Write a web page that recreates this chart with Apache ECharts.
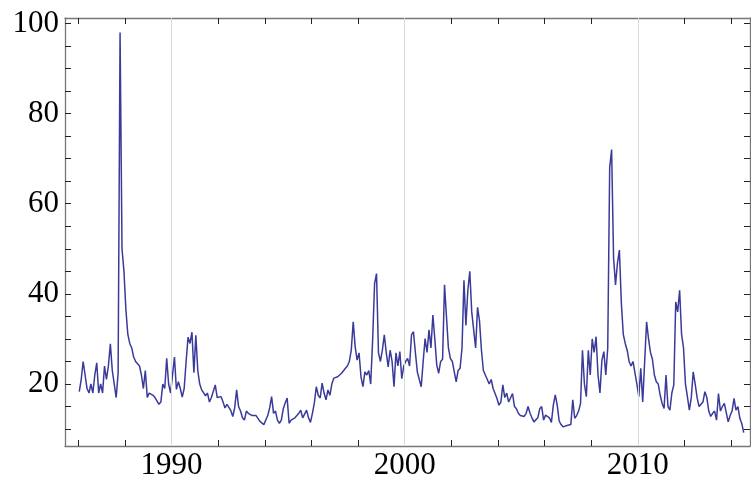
<!DOCTYPE html>
<html>
<head>
<meta charset="utf-8">
<title>Volatility index, 1986-2014</title>
<script src="https://cdn.jsdelivr.net/npm/echarts@6/dist/echarts.min.js"></script>
<style>
    html, body { margin: 0; padding: 0; background: #fff; }
    #chart { width: 751px; height: 483px; }
</style>
</head>
<body>
<div id="chart"></div>
<script>
// Monthly readings of the index, one array per year (Jan..Dec)
var v1986 = [18.3, 21, 25, 22, 19, 18, 20, 18, 22, 24.7, 18, 20];
var v1987 = [18, 24, 21, 24, 28.9, 23, 20, 17, 22.4, 98, 50, 45];
var v1988 = [36.5, 31, 29, 28, 26, 25, 24.5, 24, 22, 19, 23, 17];
var v1989 = [18, 18, 17.5, 17, 17, 15.5, 16, 20, 19, 25.7, 20, 18];
var v1990 = [22, 26, 18.8, 20.5, 19, 17.1, 19, 25, 30.4, 29, 31.5, 22.5];
var v1991 = [30.8, 23, 20, 18.7, 19, 17.4, 18, 16, 17, 17, 19.8, 17];
var v1992 = [17, 17.2, 16, 14.7, 15.5, 14.8, 14.1, 12.8, 14.7, 18.7, 15, 14];
var v1993 = [12.5, 12, 14, 13.5, 13.5, 13, 12.9, 13, 13.1, 11.7, 12, 11];
var v1994 = [11.3, 13, 14.7, 17.2, 13.5, 14, 12, 11.3, 12, 14.5, 15.8, 16.9];
var v1995 = [11.3, 12, 12, 12.5, 13, 13.5, 14.2, 12.5, 12.2, 14.2, 12.5, 11.5];
var v1996 = [13.5, 15.8, 19.4, 17.5, 16.9, 20.2, 18, 16.5, 18.7, 17.5, 20, 21.3];
var v1997 = [21, 21.6, 22, 22.4, 22, 23.5, 24, 25, 27.5, 33.8, 28.3, 25.3];
var v1998 = [26.9, 21.6, 19.4, 22.7, 22, 23, 20, 29.8, 42.3, 44.5, 26.9, 25];
var v1999 = [27.5, 30.9, 27, 23.8, 27.5, 25, 19.4, 26.9, 24, 27.2, 21.2, 24];
var v2000 = [25, 25.7, 24, 30.9, 31.6, 27, 22.7, 21, 19.4, 25, 30.1, 27];
var v2001 = [32, 28, 35.3, 30, 24.2, 22.4, 25, 25.5, 42, 34.9, 28, 25.7];
var v2002 = [25, 25.3, 20.5, 23, 23.5, 28, 43, 33, 40.8, 45, 36, 32];
var v2003 = [28, 37, 34, 27.5, 23, 22, 21.6, 20, 21, 19, 18.7, 16.8];
var v2004 = [15.3, 16, 19.8, 17, 18, 16, 16, 17.9, 15, 14.5, 13.5, 13];
var v2005 = [13, 12.8, 13.5, 15, 13.5, 12.5, 11.6, 12, 12.5, 14.5, 15, 12];
var v2006 = [13.1, 13, 12.5, 11.5, 15.3, 17.6, 15.3, 11.8, 11, 10.5, 10.5, 10.8];
var v2007 = [11, 11, 16.5, 12.4, 13, 14, 15.7, 27.5, 20, 17.2, 27.5, 22];
var v2008 = [30, 27, 30.5, 22, 18, 25.3, 27.2, 22, 28, 68, 72, 48];
var v2009 = [42, 46.8, 49.7, 38, 31, 29, 27.5, 25, 24, 25, 25.3, 20];
var v2010 = [17.2, 23.5, 16, 15.7, 33.8, 30, 27, 25.5, 22, 20.5, 20, 17.5];
var v2011 = [15.7, 14.6, 22, 15, 14.2, 18, 19.8, 38.2, 36, 40.8, 31, 28];
var v2012 = [20, 17.2, 14.2, 17, 22.7, 20, 17, 15, 15.5, 16, 18.3, 17];
var v2013 = [14, 12.8, 13.5, 14, 12, 17.9, 14, 15, 15.7, 16, 11.6, 13];
var v2014 = [14, 16.8, 14.2, 15, 12.4, 11.2, 9.2];

var firstYear = 1986;
var yearly = [v1986, v1987, v1988, v1989, v1990, v1991, v1992, v1993, v1994, v1995,
              v1996, v1997, v1998, v1999, v2000, v2001, v2002, v2003, v2004, v2005,
              v2006, v2007, v2008, v2009, v2010, v2011, v2012, v2013, v2014];

// Axis ticks and labels
var yearTicks = [1986, 1988, 1990, 1992, 1994, 1996, 1998, 2000, 2002, 2004, 2006, 2008, 2010, 2012, 2014];
var yearLabels = [1990, 2000, 2010];
var levelTicks = [10, 15, 20, 25, 30, 35, 40, 45, 50, 55, 60, 65, 70, 75, 80, 85, 90, 95, 100];
var levelLabels = [20, 40, 60, 80, 100];

(function() {
    'use strict';

    var frameColor = '#777777';
    var lineColor = '#3a3a9a';
    var gridColor = '#d9d9d9';
    var fontFamily = "'Liberation Serif', 'DejaVu Serif', serif";

    // month i of a year sits at the middle of that month
    var points = [];
    yearly.forEach(function(arr, yi) {
        arr.forEach(function(v, mi) {
            points.push([firstYear + yi + (mi + 0.5) / 12, v]);
        });
    });

    // plain numbers, no thousands separator
    function plain(v) {
        return String(Math.round(v));
    }

    function frameX(position, showLabels) {
        return {
            type: 'value',
            position: position,
            min: 1985.43,
            max: 2014.81,
            axisLine: { show: true, onZero: false, lineStyle: { color: frameColor, width: 1.3 } },
            axisTick: { show: true, inside: true, length: 6, customValues: yearTicks,
                        lineStyle: { color: '#222', width: 1 } },
            axisLabel: { show: showLabels, customValues: yearLabels, margin: 4, formatter: plain,
                         fontFamily: fontFamily, fontSize: 31, color: '#000' },
            splitLine: { show: false }
        };
    }

    function frameY(position, showLabels) {
        return {
            type: 'value',
            position: position,
            min: 6.25,
            max: 101.2,
            axisLine: { show: true, onZero: false, lineStyle: { color: frameColor, width: 1.3 } },
            axisTick: { show: true, inside: true, length: 6, customValues: levelTicks,
                        lineStyle: { color: '#222', width: 1 } },
            axisLabel: { show: showLabels, customValues: levelLabels, margin: 6, formatter: plain,
                         fontFamily: fontFamily, fontSize: 31, color: '#000' },
            splitLine: { show: false }
        };
    }

    var chart = echarts.init(document.getElementById('chart'), null, { renderer: 'canvas' });

    var option = {
        animation: false,
        backgroundColor: '#fff',
        grid: { left: 65, right: 1, top: 18, bottom: 37, containLabel: false },
        xAxis: [frameX('bottom', true), frameX('top', false)],
        yAxis: [frameY('left', true), frameY('right', false)],
        series: [{
            // vertical grid lines behind the curve
            type: 'line',
            data: [],
            z: 1,
            silent: true,
            markLine: {
                silent: true,
                symbol: 'none',
                label: { show: false },
                lineStyle: { color: gridColor, width: 1, type: 'solid' },
                data: yearLabels.map(function(y) { return { xAxis: y }; })
            }
        }, {
            type: 'line',
            data: points,
            z: 3,
            showSymbol: false,
            smooth: false,
            lineStyle: { color: lineColor, width: 1.5 },
            itemStyle: { color: lineColor }
        }]
    };

    chart.setOption(option);

    window.addEventListener('resize', function() {
        chart.resize();
    });
})();
</script>
</body>
</html>
